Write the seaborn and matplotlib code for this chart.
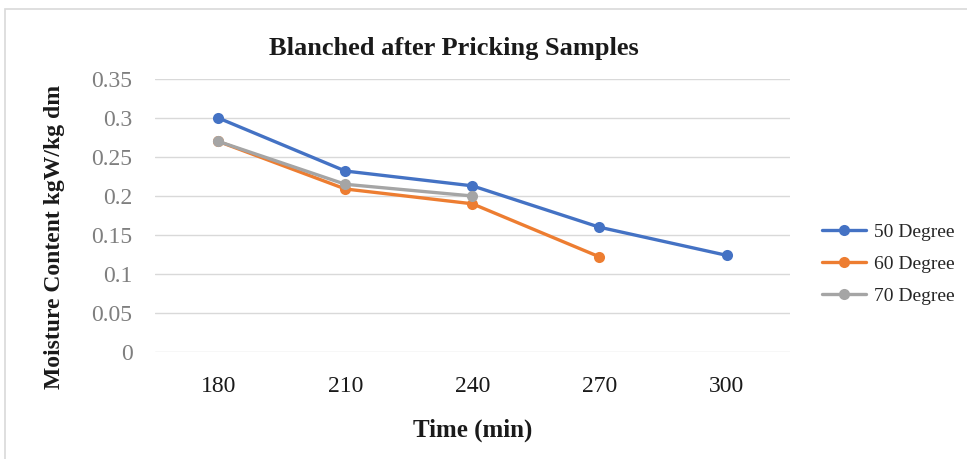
import matplotlib
matplotlib.use("Agg")
import matplotlib.pyplot as plt
import pandas as pd
import seaborn as sns
from matplotlib.patches import Rectangle

times = ["180", "210", "240", "270", "300"]
deg50 = [0.300, 0.232, 0.213, 0.160, 0.124]
deg60 = [0.270, 0.209, 0.190, 0.122]
deg70 = [0.270, 0.215, 0.200]

series = {"50 Degree": deg50, "60 Degree": deg60, "70 Degree": deg70}
rows = []
for name, vals in series.items():
    for t, v in zip(times, vals):
        rows.append({"Time": t, "Moisture": v, "Series": name})
df = pd.DataFrame(rows)
df["Time"] = pd.Categorical(df["Time"], categories=times, ordered=True)
df["pos"] = df["Time"].cat.codes

palette = {"50 Degree": "#4472C4", "60 Degree": "#ED7D31", "70 Degree": "#A5A5A5"}

sns.set_theme(style="whitegrid")
plt.rcParams["font.family"] = ["Liberation Serif", "DejaVu Serif"]

fig = plt.figure(figsize=(9.67, 4.59), dpi=100)
ax = fig.add_axes([0.160, 0.233, 0.657, 0.595])

sns.lineplot(
    data=df,
    x="pos",
    y="Moisture",
    hue="Series",
    palette=palette,
    marker="o",
    markersize=8,
    markeredgewidth=0,
    linewidth=2.4,
    ax=ax,
)

ax.set_xlim(-0.5, len(times) - 0.5)
ax.set_ylim(0, 0.35)
ax.set_xticks(range(len(times)))
ax.set_xticklabels(times)
ax.set_yticks([0, 0.05, 0.1, 0.15, 0.2, 0.25, 0.3, 0.35])
ax.set_yticklabels(["0", "0.05", "0.1", "0.15", "0.2", "0.25", "0.3", "0.35"])
ax.tick_params(axis="x", labelsize=17, colors="#1a1a1a", length=0, pad=17)
ax.tick_params(axis="y", labelsize=17, colors="#7F7F7F", length=0, pad=16)
ax.grid(axis="y", color="#D9D9D9", linewidth=1)
ax.grid(axis="x", visible=False)
for s in ax.spines.values():
    s.set_visible(False)
ax.set_facecolor("white")

ax.set_xlabel("Time (min)", fontsize=18, fontweight="bold", color="#1a1a1a")
ax.xaxis.set_label_coords(0.5, -0.245)
ax.set_ylabel("Moisture Content kgW/kg dm", fontsize=17, fontweight="bold", color="#1a1a1a")
ax.yaxis.set_label_coords(-0.142, 0.42)
fig.text(0.469, 1 - 48 / 459, "Blanched after Pricking Samples", fontsize=19,
         fontweight="bold", ha="center", va="center", color="#1a1a1a")

ax.get_legend().remove()
handles, labels = ax.get_legend_handles_labels()
fig.legend(
    handles,
    labels,
    loc="center left",
    bbox_to_anchor=(812 / 967, 1 - 264 / 459),
    frameon=False,
    fontsize=14,
    handlelength=2.3,
    handletextpad=0.4,
    labelspacing=0.75,
    borderpad=0,
)

fig.patches.append(
    Rectangle((5 / 967, -0.1), 1.2, 1.1 - 9 / 459, transform=fig.transFigure,
              fill=False, edgecolor="#D9D9D9", linewidth=1.2)
)

fig.savefig("out.png", dpi=100)
